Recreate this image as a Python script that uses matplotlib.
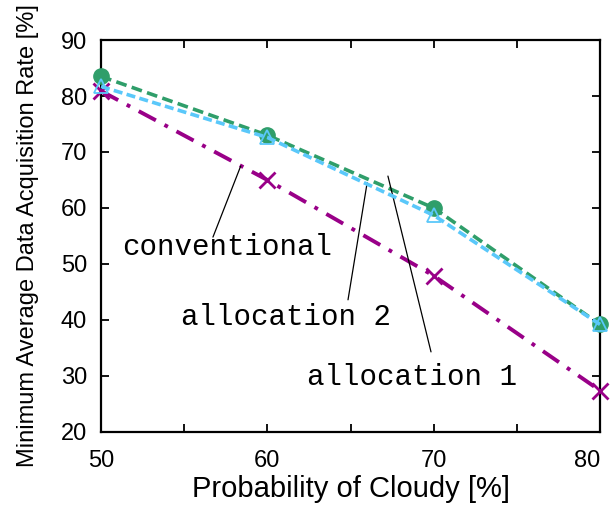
import matplotlib
matplotlib.use('Agg')
import matplotlib.pyplot as plt

cloudy = [50, 60, 70, 80]
allocation1 = [83.5, 73.0, 60.0, 39.2]
allocation2 = [81.7, 72.6, 58.7, 39.2]
conventional = [80.9, 65.0, 47.9, 27.4]

green = '#2f9e6a'
blue = '#5ac8fa'
purple = '#990088'

plt.rcParams['font.family'] = ['Liberation Sans', 'DejaVu Sans']

fig = plt.figure(figsize=(6.1, 5.13), dpi=100)
ax = fig.add_axes([0.1656, 0.158, 0.818, 0.764])

ax.plot(cloudy, conventional, color=purple, lw=2.8, ls=(0, (5, 2.5, 1, 2.5)),
        marker='x', ms=11, mew=2, clip_on=False, zorder=3)
ax.plot(cloudy, allocation1, color=green, lw=2.6, ls=(0, (3, 1.5)),
        marker='o', ms=11, clip_on=False, zorder=3)
ax.plot(cloudy, allocation2, color=blue, lw=2.6, ls=(0, (2.5, 1.2)),
        marker='^', ms=10, mfc='none', mew=1.3, clip_on=False, zorder=4)

# label texts and leader lines
mono = dict(family='Liberation Mono', fontsize=21, ha='center', va='center')
ax.text(57.6, 53.0, 'conventional', **mono)
ax.text(61.1, 40.5, 'allocation 2', **mono)
ax.text(68.7, 29.8, 'allocation 1', **mono)
line = dict(arrowstyle='-', lw=0.9, color='black', shrinkA=0, shrinkB=0)
ax.annotate('', xy=(58.4, 67.5), xytext=(56.73, 54.8), arrowprops=line)
ax.annotate('', xy=(66.0, 64.5), xytext=(64.85, 43.6), arrowprops=line)
ax.annotate('', xy=(67.25, 65.7), xytext=(69.84, 34.3), arrowprops=line)

ax.set_xlim(50, 80)
ax.set_ylim(20, 90)
ax.set_xticks([50, 60, 70, 80])
ax.set_xticks([55, 65, 75], minor=True)
ax.set_yticks(range(20, 91, 10))
ax.tick_params(direction='in', length=6, width=1.3, top=True, right=True,
               labelsize=17, pad=10)
ax.tick_params(axis='x', pad=13)
ax.tick_params(which='minor', direction='in', length=6, width=1.3, top=True)
ax.get_xticklabels()[-1].set_horizontalalignment('right')
for s in ax.spines.values():
    s.set_linewidth(1.6)

ax.set_xlabel('Probability of Cloudy [%]', fontsize=21, labelpad=2)
ax.set_ylabel('Minimum Average Data Acquisition Rate [%]', fontsize=17, labelpad=16)

fig.savefig('out.png', dpi=100)
